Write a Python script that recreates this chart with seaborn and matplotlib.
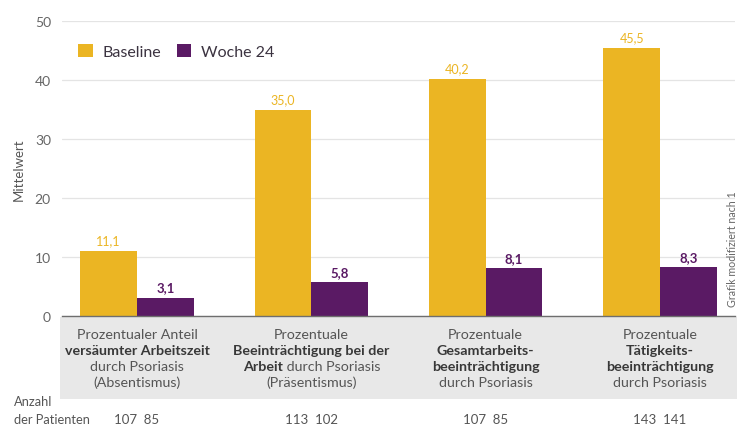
import matplotlib
matplotlib.use("Agg")
import matplotlib.pyplot as plt
import matplotlib.transforms as mtransforms
from matplotlib.patches import Rectangle
import seaborn as sns
import pandas as pd

# Data
categories = ["Absentismus", "Präsentismus", "Gesamtarbeitsbeeinträchtigung", "Tätigkeitsbeeinträchtigung"]
baseline = [11.1, 35.0, 40.2, 45.5]
woche24 = [3.1, 5.8, 8.1, 8.3]
n_baseline = [107, 113, 107, 143]
n_woche24 = [85, 102, 85, 141]
series = ["Baseline", "Woche 24"]
yticks = [0, 10, 20, 30, 40, 50]

# Category labels: list of lines, each line a list of (text, bold) pieces
cat_lines = [
    [[("Prozentualer Anteil", False)],
     [("versäumter Arbeitszeit", True)],
     [("durch Psoriasis", False)],
     [("(Absentismus)", False)]],
    [[("Prozentuale", False)],
     [("Beeinträchtigung bei der", True)],
     [("Arbeit", True), (" durch Psoriasis", False)],
     [("(Präsentismus)", False)]],
    [[("Prozentuale", False)],
     [("Gesamtarbeits-", True)],
     [("beeinträchtigung", True)],
     [("durch Psoriasis", False)]],
    [[("Prozentuale", False)],
     [("Tätigkeits-", True)],
     [("beeinträchtigung", True)],
     [("durch Psoriasis", False)]],
]

YELLOW = "#EBB523"
PURPLE = "#5A1A64"
FONT = "Lato"

sns.set_theme(style="white")
plt.rcParams["font.family"] = [FONT, "DejaVu Sans"]

df = pd.DataFrame({
    "Kategorie": categories * 2,
    "Serie": [series[0]] * 4 + [series[1]] * 4,
    "Wert": baseline + woche24,
})

fig = plt.figure(figsize=(7.44, 4.27), dpi=100)
ax = fig.add_axes([62 / 744, 1 - 317 / 427, 673 / 744, 295 / 427])

sns.barplot(data=df, x="Kategorie", y="Wert", hue="Serie", hue_order=series,
            order=categories, palette=[YELLOW, PURPLE], width=0.65, gap=0,
            ax=ax, saturation=1, edgecolor="none", legend=True)

ax.set_xlim(-0.43, 3.43)
ax.set_ylim(0, 50)
ax.set_yticks(yticks)
ax.set_yticklabels([str(t) for t in yticks], color="#666666", fontsize=10)
ax.tick_params(axis="y", length=0, pad=8)
ax.set_xticks([])
ax.set_xlabel("")
ax.set_ylabel("Mittelwert", color="#555555", fontsize=9.5, labelpad=7)
ax.yaxis.grid(True, color="#e4e4e4", linewidth=0.9)
ax.set_axisbelow(True)
for side in ["top", "right", "left"]:
    ax.spines[side].set_visible(False)
ax.spines["bottom"].set_color("#6e6e6e")
ax.spines["bottom"].set_linewidth(1.0)

# Value labels with decimal comma
fmt = lambda v: f"{v:.1f}".replace(".", ",")
for container, vals, col, wt, fs in zip(ax.containers, [baseline, woche24],
                                        [YELLOW, PURPLE], ["normal", "bold"], [9, 9.5]):
    ax.bar_label(container, labels=[fmt(v) for v in vals], padding=3,
                 color=col, fontsize=fs, fontweight=wt)

# Legend
leg = ax.legend(loc="upper left", bbox_to_anchor=(0.003, 0.97), ncol=2, frameon=False,
                handlelength=0.9, handleheight=0.9, handletextpad=0.6,
                columnspacing=1.0, fontsize=11.5)
for t in leg.get_texts():
    t.set_color("#3b3340")

# Gray band behind the category labels
band = Rectangle((60 / 744, 1 - 400 / 427), 677 / 744, 82 / 427,
                 transform=fig.transFigure, facecolor="#e8e8e8",
                 edgecolor="none", zorder=-1)
fig.patches.append(band)

# Category labels below the axis
fig.canvas.draw()
renderer = fig.canvas.get_renderer()
xtrans = ax.get_xaxis_transform()
line_y = [335, 351, 367, 383]
fs_cat = 10.3
for i, lines in enumerate(cat_lines):
    for ypix, pieces in zip(line_y, lines):
        yax = (317 - ypix) / 295
        widths = []
        for txt, bold in pieces:
            tmp = ax.text(0, 0, txt, fontsize=fs_cat,
                          fontweight="bold" if bold else "normal")
            widths.append(tmp.get_window_extent(renderer).width)
            tmp.remove()
        total = sum(widths)
        offset = -total / 2
        for (txt, bold), w in zip(pieces, widths):
            tr = mtransforms.offset_copy(xtrans, fig=fig, x=offset * 72 / fig.dpi,
                                         y=0, units="points")
            ax.text(i, yax, txt, transform=tr, ha="left", va="center",
                    fontsize=fs_cat, fontweight="bold" if bold else "normal",
                    color="#383838" if bold else "#555555", clip_on=False)
            offset += w

# Patient counts
fig.text(14 / 744, 1 - 402 / 427, "Anzahl", fontsize=9.3, color="#555555", va="center")
fig.text(14 / 744, 1 - 420 / 427, "der Patienten", fontsize=9.3, color="#555555", va="center")
for i in range(len(categories)):
    ax.text(i, (317 - 420) / 295, f"{n_baseline[i]}  {n_woche24[i]}",
            transform=xtrans, ha="center", va="center", fontsize=9.5,
            color="#555555", clip_on=False)

# Source note
fig.text(733 / 744, 1 - 249 / 427, "Grafik modifiziert nach 1", rotation=90,
         fontsize=7.7, color="#666666", ha="center", va="center")

fig.savefig("out.png", dpi=100, facecolor="white")
